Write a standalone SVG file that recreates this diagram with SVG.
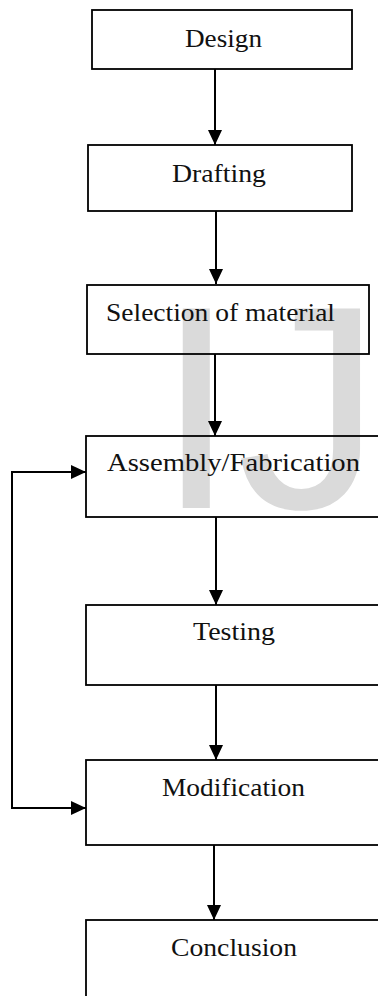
<svg xmlns="http://www.w3.org/2000/svg" width="378" height="996" viewBox="0 0 378 996">
<style>
.box{fill:none;stroke:#000;stroke-width:1.8}
.lbl{font-family:"Liberation Serif","DejaVu Serif",serif;font-size:26px;fill:#111;text-anchor:middle}
.con{fill:none;stroke:#000;stroke-width:2}
.wm{font-family:"Liberation Sans",Arial,sans-serif;font-size:290px;fill:#dadada}
</style>
<defs>
<marker id="ah" markerUnits="userSpaceOnUse" markerWidth="16" markerHeight="14" refX="15" refY="7" orient="auto-start-reverse">
<path d="M0,0 L15,7 L0,14 Z" fill="#000"/>
</marker>
</defs>
<rect width="378" height="996" fill="#fff"/>
<text class="wm" x="156" y="508">IJ</text>
<g id="design"><rect class="box" x="92" y="10" width="260" height="59"/><text class="lbl" x="223.5" y="47" textLength="77" lengthAdjust="spacingAndGlyphs">Design</text></g>
<g id="drafting"><rect class="box" x="88" y="145" width="264" height="66"/><text class="lbl" x="219" y="182" textLength="94" lengthAdjust="spacingAndGlyphs">Drafting</text></g>
<g id="selection"><rect class="box" x="87" y="285" width="282" height="69"/><text class="lbl" x="220.5" y="321" textLength="229" lengthAdjust="spacingAndGlyphs">Selection of material</text></g>
<g id="assembly"><rect class="box" x="86" y="436" width="296" height="81"/><text class="lbl" x="233.5" y="471" textLength="253" lengthAdjust="spacingAndGlyphs">Assembly/Fabrication</text></g>
<g id="testing"><rect class="box" x="86" y="605" width="296" height="80"/><text class="lbl" x="234" y="640" textLength="82" lengthAdjust="spacingAndGlyphs">Testing</text></g>
<g id="modification"><rect class="box" x="86" y="760" width="296" height="85"/><text class="lbl" x="233.5" y="796" textLength="143" lengthAdjust="spacingAndGlyphs">Modification</text></g>
<g id="conclusion"><rect class="box" x="86" y="920" width="296" height="90"/><text class="lbl" x="234" y="956" textLength="126" lengthAdjust="spacingAndGlyphs">Conclusion</text></g>
<g id="connectors">
<path class="con" d="M215,69 V145" marker-end="url(#ah)"/>
<path class="con" d="M216,211 V284" marker-end="url(#ah)"/>
<path class="con" d="M215,354 V436" marker-end="url(#ah)"/>
<path class="con" d="M216,517 V605" marker-end="url(#ah)"/>
<path class="con" d="M216,685 V760" marker-end="url(#ah)"/>
<path class="con" d="M214,845 V920" marker-end="url(#ah)"/>
<path class="con" d="M86,472 H12 V808 H86" marker-start="url(#ah)" marker-end="url(#ah)"/>
</g>
</svg>
